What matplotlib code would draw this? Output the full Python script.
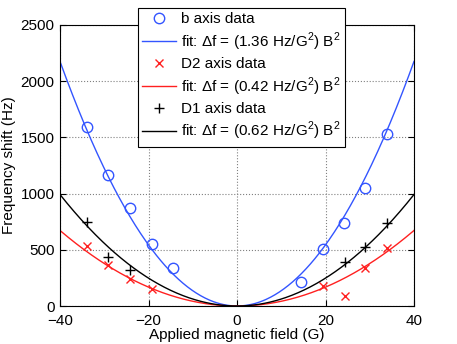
import numpy as np
import matplotlib
matplotlib.use("Agg")
import matplotlib.pyplot as plt

plt.rcParams['font.family'] = ['Liberation Sans', 'DejaVu Sans']
plt.rcParams['mathtext.fontset'] = 'custom'
plt.rcParams['mathtext.rm'] = 'Liberation Sans'

# b axis data
b_field = [-34.0, -29.1, -24.1, -19.3, -14.5, 14.5, 19.5, 24.2, 28.9, 34.0]
b_shift = [1592, 1165, 875, 552, 335, 211, 504, 736, 1052, 1527]

# D2 axis data
d2_field = [-33.8, -29.2, -24.1, -19.3, 19.4, 24.3, 28.9, 33.8]
d2_shift = [534, 365, 240, 151, 181, 92, 335, 513]

# D1 axis data
d1_field = [-33.8, -29.1, -24.1, 24.3, 28.9, 33.8]
d1_shift = [750, 439, 320, 394, 522, 741]

# fit coefficients (Hz/G^2)
k_b = 1.36
k_d2 = 0.42
k_d1 = 0.62

blue = '#3355ff'
red = '#ff2020'

fig = plt.figure(figsize=(4.57, 3.44), dpi=100)
ax = fig.add_axes([60/457, 38/344, 354/457, 281/344])

B = np.linspace(-40, 40, 401)
ax.plot(b_field, b_shift, 'o', mfc='none', mec=blue, ms=7.5, mew=1.0, label='b axis data')
ax.plot(B, k_b*B**2, '-', color=blue, lw=1.0,
        label='fit: $\\Delta$f = (%.2f Hz/G$^2$) B$^2$' % k_b)
ax.plot(d2_field, d2_shift, 'x', color=red, ms=5.5, mew=1.0, label='D2 axis data')
ax.plot(B, k_d2*B**2, '-', color=red, lw=1.0,
        label='fit: $\\Delta$f = (%.2f Hz/G$^2$) B$^2$' % k_d2)
ax.plot(d1_field, d1_shift, '+', color='black', ms=7, mew=1.0, label='D1 axis data')
ax.plot(B, k_d1*B**2, '-', color='black', lw=1.0,
        label='fit: $\\Delta$f = (%.2f Hz/G$^2$) B$^2$' % k_d1)

ax.set_xlim(-40, 40)
ax.set_ylim(0, 2500)
ax.set_xticks([-40, -20, 0, 20, 40])
ax.set_yticks([0, 500, 1000, 1500, 2000, 2500])
ax.set_xticklabels(['\u221240', '\u221220', '0', '20', '40'])
ax.grid(True, linestyle=':', color='#808080', lw=0.8)
ax.tick_params(direction='in', labelsize=11, length=4, top=True, right=True)
ax.tick_params(axis='x', pad=6)
ax.tick_params(axis='y', pad=4)
ax.set_xlabel('Applied magnetic field (G)', fontsize=11, labelpad=0)
ax.set_ylabel('Frequency shift (Hz)', fontsize=11, labelpad=3)

leg = ax.legend(loc='upper left', bbox_to_anchor=(0.22, 1.062), borderaxespad=0,
                fontsize=11, frameon=True, fancybox=False, edgecolor='black',
                framealpha=1, borderpad=0.3, labelspacing=0.28,
                handlelength=2.2, handletextpad=0.3)
leg.get_frame().set_linewidth(0.8)

fig.savefig('out.png', dpi=100)
